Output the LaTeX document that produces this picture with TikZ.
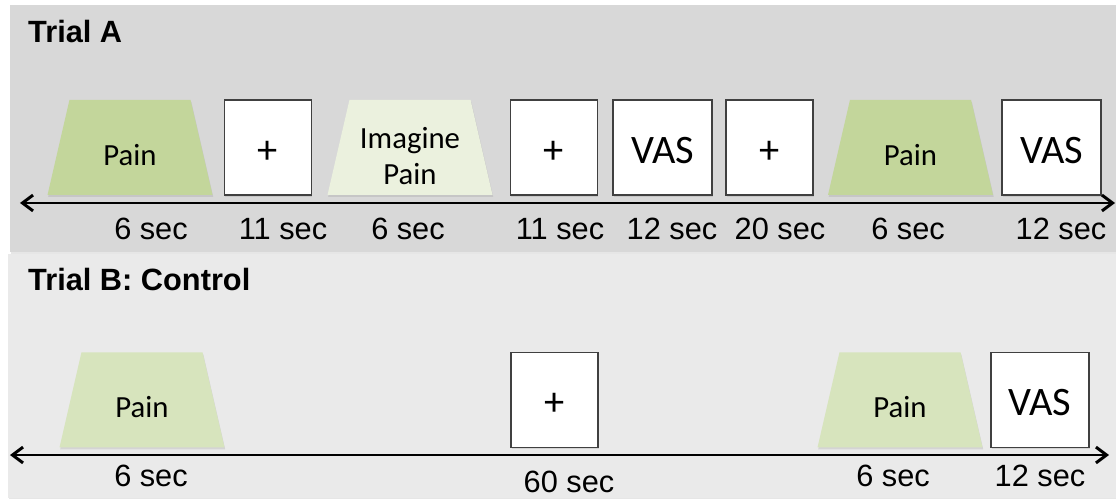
\documentclass[tikz,border=0pt]{standalone}
\usepackage{fontspec}
\setmainfont{Liberation Sans}
\newfontfamily\calibri{Carlito}
\usetikzlibrary{arrows.meta,shapes.geometric,shadows}
\definecolor{trialA}{RGB}{216,216,216}
\definecolor{trialB}{RGB}{234,234,234}
\definecolor{painA}{RGB}{195,214,155}
\definecolor{painB}{RGB}{215,228,189}
\definecolor{imagine}{RGB}{235,241,222}
\definecolor{frame}{RGB}{64,64,64}
\tikzset{
  soft/.style={drop shadow={shadow xshift=0.4pt, shadow yshift=-1pt, opacity=0.2}},
  stim/.style={trapezium, trapezium angle=77, trapezium stretches body,
    minimum width=3.3cm, inner xsep=0pt, inner ysep=0.59cm,
    text height=0.72cm, text depth=0pt, font=\calibri\fontsize{17.5}{21}\selectfont, soft},
  screen/.style={draw=frame, line width=0.7pt, fill=white, minimum width=1.74cm,
    minimum height=1.9cm, inner sep=0pt, text height=0.64cm, text depth=0pt,
    font=\calibri\fontsize{23}{27}\selectfont, soft},
  vas/.style={screen, minimum width=1.98cm},
  dur/.style={anchor=base, font=\fontsize{17.5}{20}\selectfont},
  title/.style={anchor=base west, font=\bfseries\fontsize{17.5}{20}\selectfont},
  timeline/.style={line width=1.7pt,
    {Straight Barb[length=6pt,width=9pt]}-{Straight Barb[length=6pt,width=9pt]}}
}
\begin{document}
\begin{tikzpicture}
	\useasboundingbox (0,0) rectangle (22.32,9.96);
	\fill[trialB, soft] (0.16,0) rectangle (22.32,4.88);
	\fill[trialA, soft] (0.2,4.92) rectangle (22.32,9.86);

	\node[title] (ta) at (0.44,9.1) {Trial A};
	\node[title] (tb) at (0.44,4.14) {Trial B: Control};

	\node[stim, fill=painA] (pa1) at (2.6,7.01) {Pain};
	\node[screen] (fa1) at (5.36,7.01) {+};
	\node[stim, fill=imagine, align=center, text height=1.5cm, inner ysep=0.2cm] (ia) at (8.2,7.01) {Imagine\\Pain};
	\node[screen] (fa2) at (11.08,7.01) {+};
	\node[vas] (va1) at (13.25,7.01) {VAS};
	\node[screen] (fa3) at (15.39,7.01) {+};
	\node[stim, fill=painA] (pa2) at (18.21,7.01) {Pain};
	\node[vas] (va2) at (21.03,7.01) {VAS};

	\coordinate (aL) at (0.4,5.9);
	\coordinate (aR) at (22.3,5.9);
	\draw[timeline] (aL) -- (aR);

	\node[dur] (da1) at (3.02,5.16) {6 sec};
	\node[dur] (da2) at (5.66,5.16) {11 sec};
	\node[dur] (da3) at (8.16,5.16) {6 sec};
	\node[dur] (da4) at (11.2,5.16) {11 sec};
	\node[dur] (da5) at (13.44,5.16) {12 sec};
	\node[dur] (da6) at (15.6,5.16) {20 sec};
	\node[dur] (da7) at (18.16,5.16) {6 sec};
	\node[dur] (da8) at (21.22,5.16) {12 sec};

	\node[stim, fill=painB] (pb1) at (2.84,1.96) {Pain};
	\node[screen] (fb) at (11.09,1.96) {+};
	\node[stim, fill=painB] (pb2) at (18.0,1.96) {Pain};
	\node[vas, minimum width=1.96cm] (vb) at (20.8,1.96) {VAS};

	\coordinate (bL) at (0.2,0.86);
	\coordinate (bR) at (22.18,0.86);
	\draw[timeline] (bL) -- (bR);

	\node[dur] (db1) at (3.02,0.24) {6 sec};
	\node[dur] (db2) at (11.38,0.12) {60 sec};
	\node[dur] (db3) at (17.86,0.24) {6 sec};
	\node[dur] (db4) at (20.8,0.24) {12 sec};
\end{tikzpicture}
\end{document}
